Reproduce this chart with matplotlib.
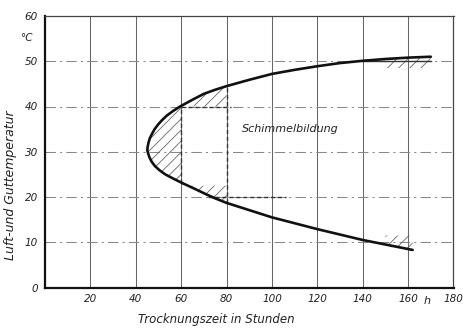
import matplotlib
matplotlib.use("Agg")
import matplotlib.pyplot as plt
import numpy as np

# Curve (drying time h, temperature °C), lower end -> upper end
curve_x = [162, 160, 150, 140, 130, 120, 110, 100, 90, 80, 75, 71, 66, 60, 56, 53, 50.5, 48.5, 47.0, 46.0, 45.4, 45.1, 45.2, 45.6, 46.2, 47.2, 48.3, 49.8, 51.6, 53.7, 56.4, 59.5, 65, 70, 75, 80, 90, 100, 110, 120, 130, 140, 150, 160, 170]
curve_y = [8.3, 8.5, 9.5, 10.5, 11.7, 12.9, 14.2, 15.5, 17.1, 18.7, 19.7, 20.6, 21.8, 23.2, 24.2, 25.0, 25.9, 26.8, 27.8, 28.8, 29.7, 30.3, 31.0, 32.0, 33.0, 34.0, 35.0, 36.0, 37.0, 38.0, 39.0, 40.0, 41.5, 42.8, 43.7, 44.5, 45.9, 47.2, 48.1, 48.9, 49.6, 50.1, 50.5, 50.8, 51.0]

x_ticks = [20, 40, 60, 80, 100, 120, 140, 160, 180]
y_ticks = [0, 10, 20, 30, 40, 50, 60]
region_label = "Schimmelbildung"
x_label = "Trocknungszeit in Stunden"
y_label = "Luft-und Guttemperatur"

cx = np.array(curve_x)
cy = np.array(curve_y)
iv = int(np.argmin(cx))
lo_x, lo_y = cx[:iv + 1][::-1], cy[:iv + 1][::-1]   # lower branch, x increasing
up_x, up_y = cx[iv:], cy[iv:]                       # upper branch, x increasing

plt.rcParams["hatch.linewidth"] = 0.6

fig = plt.figure(figsize=(4.64, 3.28), dpi=100)
ax = fig.add_axes([45 / 464, 40.5 / 328, 408.5 / 464, 271.5 / 328])
ax.set_xlim(0, 180)
ax.set_ylim(0, 60)

# grid
for xv in x_ticks[:-1]:
    ax.axvline(xv, color="#666666", lw=0.75, zorder=1)
for yv in y_ticks[1:-1]:
    ax.axhline(yv, color="#888888", lw=0.75, ls=(0, (10, 4, 2, 4)), zorder=1)

hatch_kw = dict(facecolor="none", edgecolor="#666666", hatch="///", linewidth=0, zorder=2)

# vertex region, bounded by curve and x=60 between y 23.2 and 40
sel = (cy >= 23.2) & (cy <= 40) & (cx <= 60)
order = np.argsort(cy[sel])
ax.fill_betweenx(cy[sel][order], cx[sel][order], 60, **hatch_kw)
# upper-left band: between y=40 and the upper branch, x 60..80
m = (up_x >= 59.5) & (up_x <= 80)
ax.fill_between(up_x[m], 40, up_y[m], **hatch_kw)
# upper right band
m = (up_x >= 145)
ax.fill_between(up_x[m], 48.5, up_y[m], **hatch_kw)
# lower right band
m = (lo_x >= 150)
ax.fill_between(lo_x[m], lo_y[m], 11.5, **hatch_kw)
# lower band near x 60..80
m = (lo_x >= 60) & (lo_x <= 80)
ax.fill_between(lo_x[m], lo_y[m], 22.5, **hatch_kw)

# inner boundary dashes
dash = dict(color="#333333", lw=1.0, ls=(0, (3, 2)), zorder=3)
ax.plot([60, 82], [40, 40], **dash)
ax.plot([72, 106], [20, 20], **dash)
ax.plot([60, 60], [23.2, 40], **dash)
ax.plot([80, 80], [18.7, 44.5], **dash)
ax.plot([140, 170], [50, 50], color="#333333", lw=1.0, zorder=3)

# main curve
ax.plot(cx, cy, color="#111111", lw=1.9, solid_capstyle="round", solid_joinstyle="round", zorder=4)

ax.text(108, 35.0, region_label, fontsize=8, style="italic", ha="center", va="center", color="#222222")

# spines
for s in ["left", "bottom"]:
    ax.spines[s].set_linewidth(1.6)
    ax.spines[s].set_color("#111111")
for s in ["top", "right"]:
    ax.spines[s].set_linewidth(0.9)
    ax.spines[s].set_color("#444444")

ax.set_xticks(x_ticks)
ax.set_yticks(y_ticks)
ax.set_xticklabels([str(v) for v in x_ticks], fontsize=7.5, style="italic", color="#222222")
ax.set_yticklabels([str(v) for v in y_ticks], fontsize=7.5, style="italic", color="#222222")
ax.tick_params(length=0, pad=5)

ax.text(-5.5, 55.2, "°C", fontsize=7.5, style="italic", ha="right", va="center", color="#222222")
ax.text(168.5, -3.0, "h", fontsize=8, style="italic", ha="center", va="center", color="#222222")

ax.set_xlabel(x_label, fontsize=8.5, style="italic", color="#222222", labelpad=3)
fig.text(11 / 464, 1 - 185 / 328, y_label, rotation=90, fontsize=9, style="italic", ha="center", va="center", color="#222222")
ax.xaxis.set_label_coords(0.42, -0.095)

fig.savefig("out.png", dpi=100, facecolor="white")
